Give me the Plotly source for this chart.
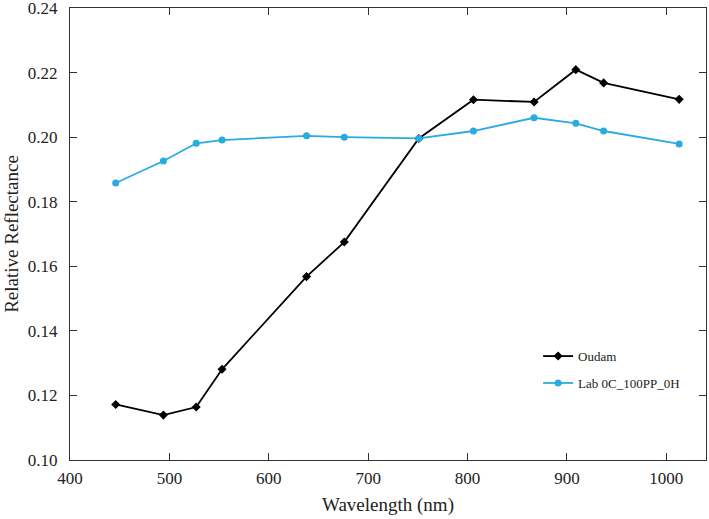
import plotly.graph_objects as go

wavelength = [446, 494, 527, 553, 638, 676, 751, 806, 867, 909, 937, 1013]
oudam = [0.1172, 0.1139, 0.1164, 0.1281, 0.1568, 0.1675, 0.1996, 0.2116, 0.2109, 0.2209, 0.2168, 0.2117]
lab = [0.1858, 0.1926, 0.1981, 0.1991, 0.2004, 0.2000, 0.1996, 0.2019, 0.2060, 0.2043, 0.2019, 0.1979]

x_ticks = [400, 500, 600, 700, 800, 900, 1000]
y_ticks = [0.10, 0.12, 0.14, 0.16, 0.18, 0.20, 0.22, 0.24]

font_family = "Liberation Serif"

fig = go.Figure()
fig.add_trace(go.Scatter(
    x=wavelength, y=oudam, mode="lines+markers", name="Oudam",
    legendgroup="a",
    line=dict(color="#000000", width=1.8),
    marker=dict(symbol="diamond", size=7, color="#000000"),
))
fig.add_trace(go.Scatter(
    x=wavelength, y=lab, mode="lines+markers", name="Lab 0C_100PP_0H",
    legendgroup="b",
    line=dict(color="#29abe2", width=1.8),
    marker=dict(symbol="circle", size=7, color="#29abe2"),
))

axis_common = dict(
    showline=True, linecolor="#333333", linewidth=1, mirror="ticks",
    ticks="inside", ticklen=7, tickcolor="#333333", tickwidth=1,
    showgrid=False, zeroline=False, automargin=False,
    ticklabeloverflow="allow",
    tickfont=dict(family=font_family, size=17, color="#222222"),
)

fig.update_xaxes(
    range=[400, 1040], tickvals=x_ticks, ticktext=[str(v) for v in x_ticks],
    ticklabelstandoff=3,
    title=dict(text="Wavelength (nm)", font=dict(family=font_family, size=19, color="#222222"), standoff=10),
    **axis_common,
)
fig.update_yaxes(
    range=[0.10, 0.24], tickvals=y_ticks, ticktext=[f"{v:.2f}" for v in y_ticks],
    ticklabelstandoff=8,
    title=dict(text="Relative Reflectance", font=dict(family=font_family, size=19, color="#222222"), standoff=4),
    **axis_common,
)

fig.update_layout(
    width=709, height=519,
    margin=dict(l=70, r=3, t=8, b=59),
    plot_bgcolor="white", paper_bgcolor="white",
    font=dict(family=font_family),
    showlegend=True,
    legend=dict(
        x=0.736, y=0.263, xanchor="left", yanchor="top",
        bgcolor="rgba(0,0,0,0)", borderwidth=0,
        font=dict(family=font_family, size=13, color="#222222"),
        traceorder="grouped", tracegroupgap=7,
    ),
)

fig.write_html(
    "out.html",
    config={"displayModeBar": False},
    post_script="document.body.style.margin='0';document.body.style.overflow='hidden';",
)
